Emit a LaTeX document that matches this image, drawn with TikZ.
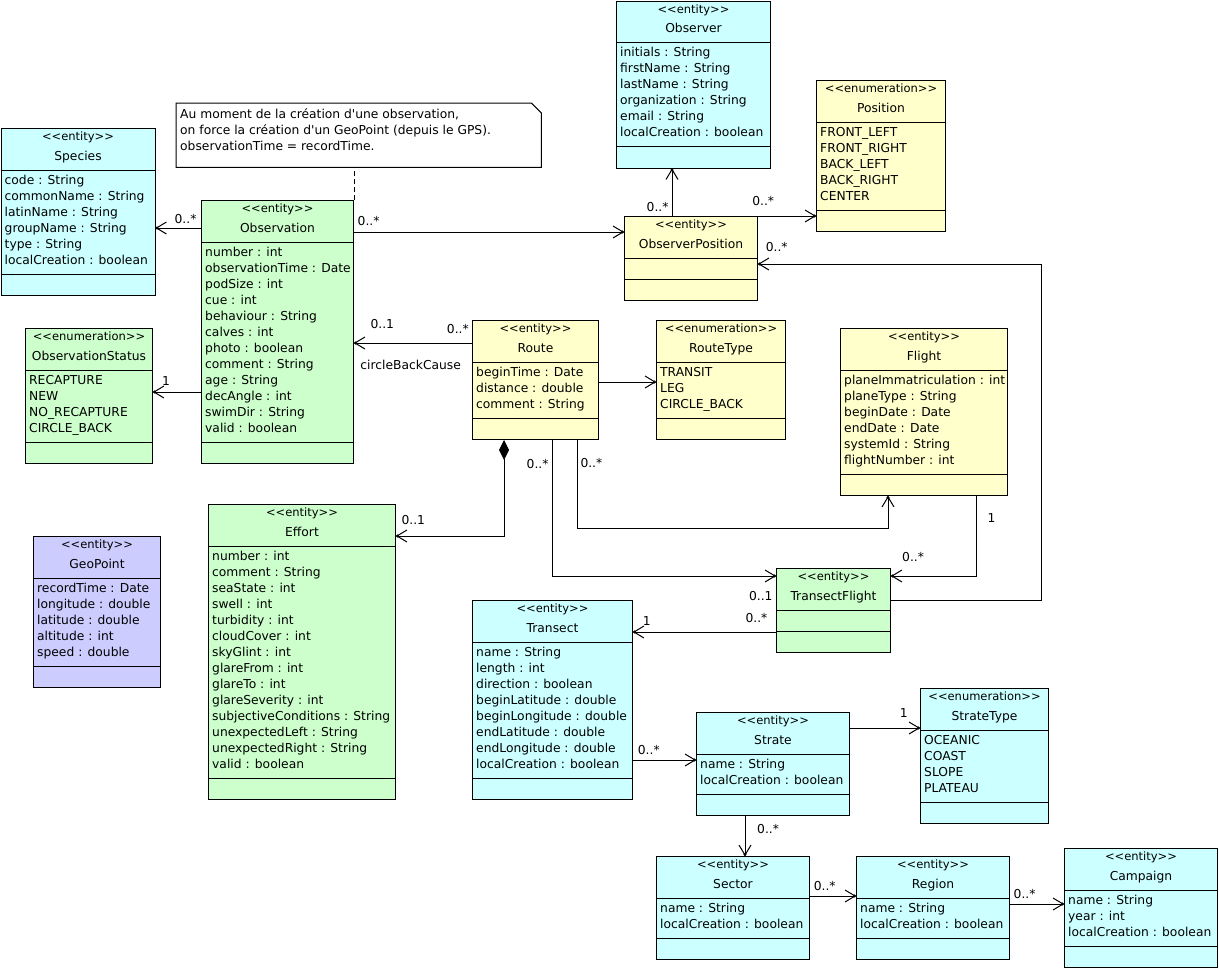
\documentclass[tikz,border=0pt]{standalone}
\usepackage{fontspec}
\usetikzlibrary{arrows.meta}
\newfontfamily\umlfont{DejaVu Sans}
\definecolor{umlcyan}{HTML}{CCFFFF}
\definecolor{umlgreen}{HTML}{CCFFCC}
\definecolor{umlyellow}{HTML}{FFFFCC}
\definecolor{umlblue}{HTML}{CCCCFF}

\tikzset{
  umlhead/.tip={Straight Barb[length=10pt,width=12pt,sep=-3pt] Circle[length=3pt]},
  classbox/.style={draw, line width=1pt, inner sep=0pt, anchor=north west},
  stereo/.style={font=\umlfont\fontsize{11.5}{14}\selectfont, inner sep=0pt, anchor=base},
  classname/.style={font=\umlfont\fontsize{12.3}{16}\selectfont, inner sep=0pt, anchor=base},
  attrs/.style={font=\umlfont\fontsize{12.3}{16}\selectfont, align=left, inner sep=0pt, anchor=north west},
  notebox/.style={inner sep=0pt, anchor=north west, minimum width=365, minimum height=64},
  mult/.style={font=\umlfont\fontsize{12.3}{16}\selectfont, inner sep=3pt},
  assoc/.style={draw, line width=1pt, -{umlhead}},
  compo/.style={draw, line width=1pt, {Diamond[length=20pt,width=10pt]}-{umlhead}},
  noteline/.style={draw, line width=1pt, dash pattern=on 5pt off 3pt}
}

% #1 stereotype, #2 name, #3 colour, #4 x, #5 y, #6 width, #7 attribute lines, #8 title, #9 attributes
\newcommand{\umlclass}[9][entity]{%
  \pgfmathsetmacro{\attrh}{#7>0 ? 16*#7+8 : 21}
  \pgfmathsetmacro{\boxh}{42+\attrh+21}
  \pgfmathsetmacro{\divy}{42+\attrh}
  \node[classbox, fill=#3, minimum width=#6, minimum height=\boxh] (#2) at (#4,#5) {};
  \draw[line width=1pt] ([yshift=-42pt]#2.north west) -- ([yshift=-42pt]#2.north east);
  \draw[line width=1pt] ([yshift=-\divy pt]#2.north west) -- ([yshift=-\divy pt]#2.north east);
  \node[stereo] (#2-st) at ([yshift=-12.7pt]#2.north) {<{}<#1>{}>};
  \node[classname] (#2-nm) at ([yshift=-32pt]#2.north) {#8};
  \node[attrs] (#2-at) at ([xshift=4pt,yshift=-45pt]#2.north west) {\strut#9};
}

\begin{document}
\begin{tikzpicture}[x=1pt, y=-1pt]
    \useasboundingbox (0,0) rectangle (1219,970);
    % Place classes
    \umlclass{species}{umlcyan}{0.5}{128}{154}{6}{Species}{code : String\\ commonName : String\\ latinName : String\\ groupName : String\\ type : String\\ localCreation : boolean}
    \umlclass{obs}{umlgreen}{201}{200}{152}{12}{Observation}{number : int\\ observationTime : Date\\ podSize : int\\ cue : int\\ behaviour : String\\ calves : int\\ photo : boolean\\ comment : String\\ age : String\\ decAngle : int\\ swimDir : String\\ valid : boolean}
    \umlclass{observer}{umlcyan}{616}{0.5}{154}{6}{Observer}{initials : String\\ firstName : String\\ lastName : String\\ organization : String\\ email : String\\ localCreation : boolean}
    \umlclass[enumeration]{position}{umlyellow}{816}{80}{129}{5}{Position}{FRONT\_LEFT\\ FRONT\_RIGHT\\ BACK\_LEFT\\ BACK\_RIGHT\\ CENTER}
    \umlclass{obspos}{umlyellow}{624}{216}{133}{0}{ObserverPosition}{}
    \umlclass[enumeration]{obsstatus}{umlgreen}{25}{328}{127}{4}{ObservationStatus}{RECAPTURE\\ NEW\\ NO\_RECAPTURE\\ CIRCLE\_BACK}
    \umlclass{route}{umlyellow}{472}{320}{126}{3}{Route}{beginTime : Date\\ distance : double\\ comment : String}
    \umlclass[enumeration]{routetype}{umlyellow}{656}{320}{129}{3}{RouteType}{TRANSIT\\ LEG\\ CIRCLE\_BACK}
    \umlclass{flight}{umlyellow}{840}{328}{167}{6}{Flight}{planeImmatriculation : int\\ planeType : String\\ beginDate : Date\\ endDate : Date\\ systemId : String\\ flightNumber : int}
    \umlclass{geopoint}{umlblue}{33}{536}{127}{5}{GeoPoint}{recordTime : Date\\ longitude : double\\ latitude : double\\ altitude : int\\ speed : double}
    \umlclass{effort}{umlgreen}{208}{504}{187}{14}{Effort}{number : int\\ comment : String\\ seaState : int\\ swell : int\\ turbidity : int\\ cloudCover : int\\ skyGlint : int\\ glareFrom : int\\ glareTo : int\\ glareSeverity : int\\ subjectiveConditions : String\\ unexpectedLeft : String\\ unexpectedRight : String\\ valid : boolean}
    \umlclass{tflight}{umlgreen}{776}{568}{114}{0}{TransectFlight}{}
    \umlclass{transect}{umlcyan}{472}{600}{160}{8}{Transect}{name : String\\ length : int\\ direction : boolean\\ beginLatitude : double\\ beginLongitude : double\\ endLatitude : double\\ endLongitude : double\\ localCreation : boolean}
    \umlclass{strate}{umlcyan}{696}{712}{153}{2}{Strate}{name : String\\ localCreation : boolean}
    \umlclass[enumeration]{stratetype}{umlcyan}{920}{688}{128}{4}{StrateType}{OCEANIC\\ COAST\\ SLOPE\\ PLATEAU}
    \umlclass{sector}{umlcyan}{656}{856}{153}{2}{Sector}{name : String\\ localCreation : boolean}
    \umlclass{region}{umlcyan}{856}{856}{153}{2}{Region}{name : String\\ localCreation : boolean}
    \umlclass{campaign}{umlcyan}{1064}{848}{153}{3}{Campaign}{name : String\\ year : int\\ localCreation : boolean}
    % Note
    \node[notebox] (note) at (176,103) {};
    \draw[line width=1pt, fill=white] (note.north west) -- ([xshift=-10pt]note.north east) -- ([yshift=-10pt]note.north east) -- (note.south east) -- (note.south west) -- cycle;
    \node[attrs] (notetext) at ([xshift=4pt,yshift=-4.3pt]note.north west) {\strut Au moment de la création d'une observation,\\ on force la création d'un GeoPoint (depuis le GPS).\\ observationTime = recordTime.};
    % Attach points
    \coordinate (o1) at ([yshift=-28pt]obs.north west);
    \coordinate (o2) at ([yshift=-32pt]obs.north east);
    \coordinate (o3) at ([xshift=48pt]obspos.north west);
    \coordinate (o5) at ([yshift=-32pt]tflight.north east);
    \coordinate (p5) at ([yshift=-48pt]obspos.north east);
    \coordinate (o6) at ([yshift=-23pt]route.north west);
    \coordinate (o7) at ([yshift=-192pt]obs.north west);
    \coordinate (o8) at ([yshift=-62pt]route.north east);
    \coordinate (o9) at ([xshift=32pt]route.south west);
    \coordinate (p9) at ([yshift=-32pt]effort.north east);
    \coordinate (o10) at ([xshift=105pt]route.south west);
    \coordinate (p10) at ([xshift=48pt]flight.south west);
    \coordinate (o11) at ([xshift=80pt]route.south west);
    \coordinate (p11) at ([yshift=-8pt]tflight.north west);
    \coordinate (o12) at ([xshift=136pt]flight.south west);
    \coordinate (p12) at ([yshift=-8pt]tflight.north east);
    \coordinate (o13) at ([yshift=-64pt]tflight.north west);
    \coordinate (o14) at ([yshift=-160pt]transect.north east);
    \coordinate (o15) at ([yshift=-16pt]strate.north east);
    \coordinate (o16) at ([xshift=49pt]strate.south west);
    \coordinate (o17) at ([yshift=-40pt]sector.north east);
    \coordinate (o18) at ([yshift=-48pt]region.north east);
    % Draw edges
    \draw[noteline] (obs.north east) -- (obs.north east |- note.south);
    \draw[assoc] (o1) -- node[mult, above=0.5pt, pos=0.34] (m1) {0..*} (o1 -| species.east);
    \draw[assoc] (o2) -- node[mult, above=2.5pt, pos=0.054] (m2) {0..*} (o2 -| obspos.west);
    \draw[assoc] (o3) -- node[mult, left, pos=0.19] (m3) {0..*} (o3 |- observer.south);
    \draw[assoc] (obspos.north east) -- node[mult, above=6.8pt, pos=0.09] (m4) {0..*} (obspos.north east -| position.west);
    \draw[assoc] (o5) -- ++(150,0) |- node[mult, above=8.5pt, pos=0.967] (m5) {0..*} (p5);
    \draw[assoc] (o6) -- node[mult, above=5.5pt, pos=0.12] (m6) {0..*}
        node[mult, above=10.5pt, pos=0.76] (m7) {0..1}
        node[mult, below=13.7pt, pos=0.52] (m8) {circleBackCause} (o6 -| obs.east);
    \draw[assoc] (o7) -- node[mult, above=3pt, pos=0.73] (m9) {1} (o7 -| obsstatus.east);
    \draw[assoc] (o8) -- (o8 -| routetype.west);
    \draw[compo] (o9) |- node[mult, above=7.5pt, pos=0.92] (m10) {0..1} (p9);
    \draw[assoc] (o10) -- node[mult, right, pos=0.26] (m11) {0..*} ++(0,88) -| (p10);
    \draw[assoc] (o11) |- node[mult, left, pos=0.088] (m12) {0..*}
        node[mult, anchor=north east, yshift=-12pt, pos=1] (m13) {0..1} (p11);
    \draw[assoc] (o12) |- node[mult, right=8pt, pos=0.14] (m14) {1}
        node[mult, above=11pt, pos=0.87] (m15) {0..*} (p12);
    \draw[assoc] (o13) -- node[mult, above=6pt, pos=0.137] (m16) {0..*}
        node[mult, above=3pt, pos=0.904] (m17) {1} (o13 -| transect.east);
    \draw[assoc] (o14) -- node[mult, above=2pt, pos=0.25] (m18) {0..*} (o14 -| strate.west);
    \draw[assoc] (o15) -- node[mult, above=7pt, pos=0.77] (m19) {1} (o15 -| stratetype.west);
    \draw[assoc] (o16) -- node[mult, right=8.7pt, pos=0.32] (m20) {0..*} (o16 |- sector.north);
    \draw[assoc] (o17) -- node[mult, above=2pt, pos=0.32] (m21) {0..*} (o17 -| region.west);
    \draw[assoc] (o18) -- node[mult, above=2pt, pos=0.27] (m22) {0..*} (o18 -| campaign.west);
\end{tikzpicture}
\end{document}
